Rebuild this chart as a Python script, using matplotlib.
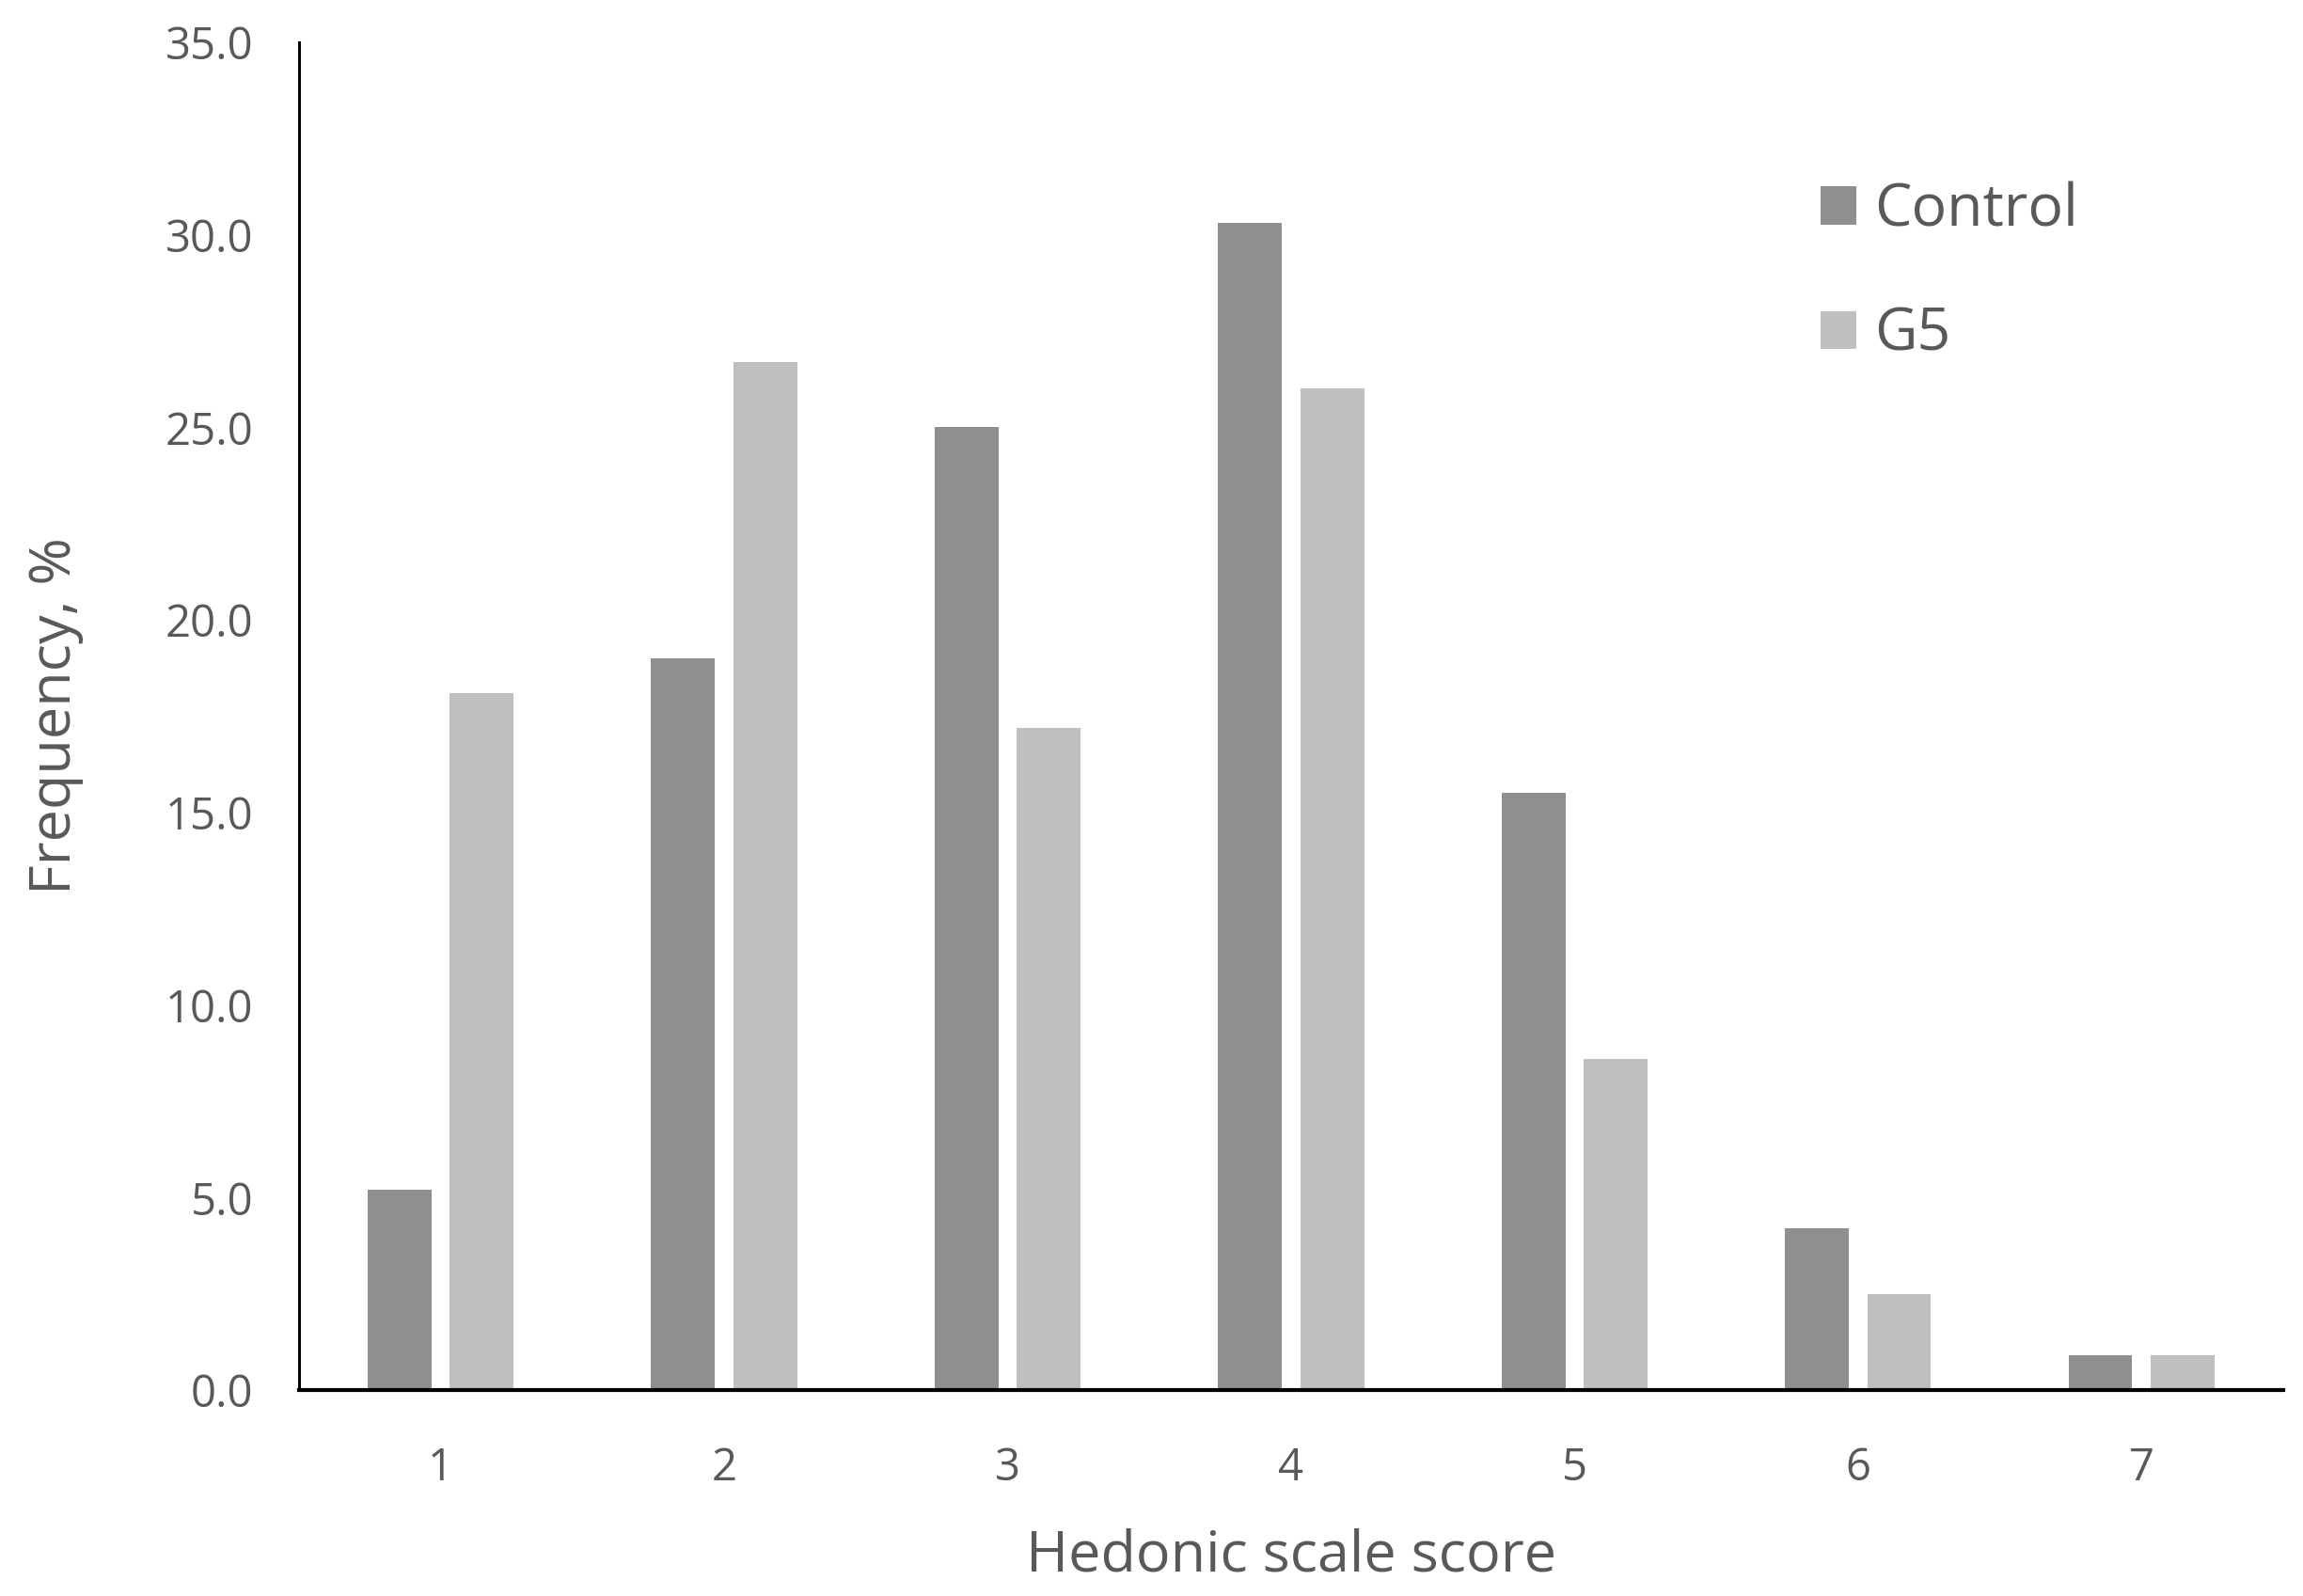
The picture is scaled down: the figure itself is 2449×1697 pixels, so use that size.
import numpy as np
import matplotlib
matplotlib.use("Agg")
import matplotlib.pyplot as plt

# ---- Data ----
scores = ["1", "2", "3", "4", "5", "6", "7"]
control = [5.2, 19.0, 25.0, 30.3, 15.5, 4.2, 0.9]
g5 = [18.1, 26.7, 17.2, 26.0, 8.6, 2.5, 0.9]

TEXT = "#595959"
plt.rcParams["font.family"] = ["Open Sans", "DejaVu Sans"]

fig = plt.figure(figsize=(24.49, 16.97), dpi=100)
ax = fig.add_axes([0.1298, 0.129, 0.8616, 0.8445])

x = np.arange(1, len(scores) + 1)
w = 0.225
off = 0.145
ax.bar(x - off, control, width=w, color="#8f8f8f", label="Control")
ax.bar(x + off, g5, width=w, color="#bfbfbf", label="G5")

ax.set_xlim(0.5, 7.5)
ax.set_ylim(0, 35)
ax.set_xticks(x)
ax.set_xticklabels(scores)
ax.set_yticks(np.arange(0, 35.1, 5))
ax.set_yticklabels([f"{v:.1f}" for v in np.arange(0, 35.1, 5)])
ax.tick_params(axis="both", length=0, labelsize=34, colors=TEXT)
ax.tick_params(axis="y", pad=35)
ax.tick_params(axis="x", pad=43)

for s in ("top", "right"):
    ax.spines[s].set_visible(False)
ax.spines["left"].set_linewidth(2.2)
ax.spines["bottom"].set_linewidth(3.0)

ax.set_xlabel("Hedonic scale score", fontsize=44, color=TEXT, labelpad=28)
ax.set_ylabel("Frequency, %", fontsize=44, color=TEXT, labelpad=62)

leg = ax.legend(loc="upper left", bbox_to_anchor=(0.74, 0.936), frameon=False,
                fontsize=45, handlelength=0.62, handleheight=0.62,
                handletextpad=0.3, labelspacing=1.12)
for t in leg.get_texts():
    t.set_color(TEXT)

fig.savefig("out.png", dpi=100)
